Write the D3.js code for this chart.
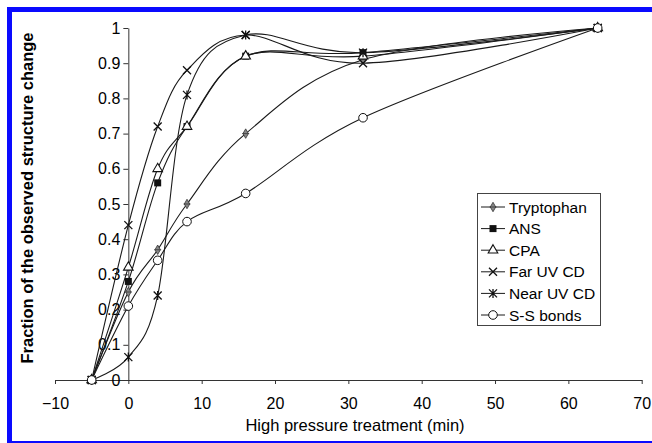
<!DOCTYPE html>
<html lang="en">
<head>
<meta charset="UTF-8">
<title>Structure change vs high pressure treatment</title>
<style>
    body { margin: 0; background: #fff; }
    svg { font-family: "Liberation Sans", Arial, sans-serif; }
    .axis path, .axis line { stroke: #333; }
    .axis text { fill: #000; font-size: 16px; }
    .series { fill: none; stroke: #1a1a1a; stroke-width: 1.1; }
</style>
</head>
<body>
<div id="chart"></div>
<script src="https://d3js.org/d3.v7.min.js"></script>
<script>
// time points (min)
var times = [-5, 0, 4, 8, 16, 32, 64];

// fraction of the observed structure change, per method
var tryptophan = [0, 0.25, 0.37, 0.50, 0.70, 0.91, 1];
var ans        = [0, 0.28, 0.56, 0.72, 0.92, 0.93, 1];
var cpa        = [0, 0.32, 0.60, 0.72, 0.92, 0.92, 1];
var farUV      = [0, 0.44, 0.72, 0.88, 0.98, 0.90, 1];
var nearUV     = [0, 0.065, 0.24, 0.81, 0.98, 0.93, 1];
var ssBonds    = [0, 0.21, 0.34, 0.45, 0.53, 0.745, 1];

var seriesNames = ["Tryptophan", "ANS", "CPA", "Far UV CD", "Near UV CD", "S-S bonds"];
var seriesValues = [tryptophan, ans, cpa, farUV, nearUV, ssBonds];

var xTicks = [-10, 0, 10, 20, 30, 40, 50, 60, 70];
var yTicks = [0, 0.1, 0.2, 0.3, 0.4, 0.5, 0.6, 0.7, 0.8, 0.9, 1];

var W = 652, H = 443;

var svg = d3.select("#chart").append("svg")
    .attr("width", W)
    .attr("height", H);

// blue frame of the scanned figure
svg.append("rect")
    .attr("x", 9.5).attr("y", 9.5)
    .attr("width", 700).attr("height", 434)
    .attr("fill", "none")
    .attr("stroke", "#0a0aff")
    .attr("stroke-width", 5);

var x = d3.scaleLinear().domain([-10, 70]).range([55, 641.7]);
var y = d3.scaleLinear().domain([0, 1]).range([380, 28]);

// x axis sits on y = 0
svg.append("g")
    .attr("class", "axis")
    .attr("transform", "translate(0," + y(0) + ")")
    .call(d3.axisBottom(x).tickValues(xTicks).tickSize(4).tickSizeOuter(0).tickPadding(14)
        .tickFormat(d3.format("d")));

// y axis sits on x = 0
svg.append("g")
    .attr("class", "axis")
    .attr("transform", "translate(" + x(0) + ",0)")
    .call(d3.axisLeft(y).tickValues(yTicks).tickSize(5).tickSizeOuter(0).tickPadding(3)
        .tickFormat(function (d) { return (d === 0 || d === 1) ? d3.format("d")(d) : d3.format(".1f")(d); }));

// axis titles
svg.append("text")
    .attr("x", 355).attr("y", 431)
    .attr("text-anchor", "middle")
    .style("font-size", "16.5px")
    .attr("fill", "#000")
    .text("High pressure treatment (min)");

svg.append("text")
    .attr("transform", "translate(33,198) rotate(-90)")
    .attr("text-anchor", "middle")
    .style("font-size", "16.5px")
    .style("font-weight", "bold")
    .attr("fill", "#000")
    .text("Fraction of the observed structure change");

// markers
function drawMarker(g, i, cx, cy) {
    var m = g.append("g").attr("transform", "translate(" + cx + "," + cy + ")");
    if (i === 0) { // tryptophan: small grey diamond
        m.append("path").attr("d", d3.symbol().type(d3.symbolDiamond).size(26)())
            .attr("fill", "#888").attr("stroke", "#333").attr("stroke-width", 0.8);
        m.append("path").attr("d", "M-3.5,0H3.5").attr("stroke", "#333").attr("stroke-width", 0.8);
    } else if (i === 1) { // ANS: filled square
        m.append("rect").attr("x", -3.5).attr("y", -3.5).attr("width", 7).attr("height", 7)
            .attr("fill", "#111");
    } else if (i === 2) { // CPA: open triangle
        m.append("path").attr("d", d3.symbol().type(d3.symbolTriangle).size(40)())
            .attr("fill", "#fff").attr("stroke", "#111").attr("stroke-width", 1.1);
    } else if (i === 3) { // far UV: x
        m.append("path").attr("d", "M-4,-4L4,4M-4,4L4,-4")
            .attr("stroke", "#111").attr("stroke-width", 1.3);
    } else if (i === 4) { // near UV: star
        m.append("path").attr("d", "M-4,-4L4,4M-4,4L4,-4M0,-4.5V4.5")
            .attr("stroke", "#111").attr("stroke-width", 1.3);
    } else { // S-S bonds: open circle
        m.append("circle").attr("r", 4.3)
            .attr("fill", "#fff").attr("stroke", "#111").attr("stroke-width", 1);
    }
}

var line = d3.line()
    .x(function (d) { return x(d[0]); })
    .y(function (d) { return y(d[1]); })
    .curve(d3.curveCatmullRom.alpha(0));

var plot = svg.append("g");

seriesValues.forEach(function (vals, i) {
    var pts = times.map(function (t, k) { return [t, vals[k]]; });
    plot.append("path")
        .attr("class", "series")
        .attr("d", line(pts));
});

seriesValues.forEach(function (vals, i) {
    times.forEach(function (t, k) {
        drawMarker(plot, i, x(t), y(vals[k]));
    });
});

// legend
var legend = svg.append("g").attr("transform", "translate(477,193)");
legend.append("rect")
    .attr("x", 0.5).attr("y", 0.5)
    .attr("width", 123).attr("height", 132)
    .attr("fill", "#fff")
    .attr("stroke", "#444")
    .attr("stroke-width", 1);

seriesNames.forEach(function (name, i) {
    var ly = 14 + i * 21.6;
    legend.append("line")
        .attr("x1", 4).attr("x2", 28)
        .attr("y1", ly).attr("y2", ly)
        .attr("stroke", "#1a1a1a");
    drawMarker(legend, i, 16, ly);
    legend.append("text")
        .attr("x", 32).attr("y", ly + 5.5)
        .style("font-size", "15.5px")
        .attr("fill", "#000")
        .text(name);
});
</script>
</body>
</html>
